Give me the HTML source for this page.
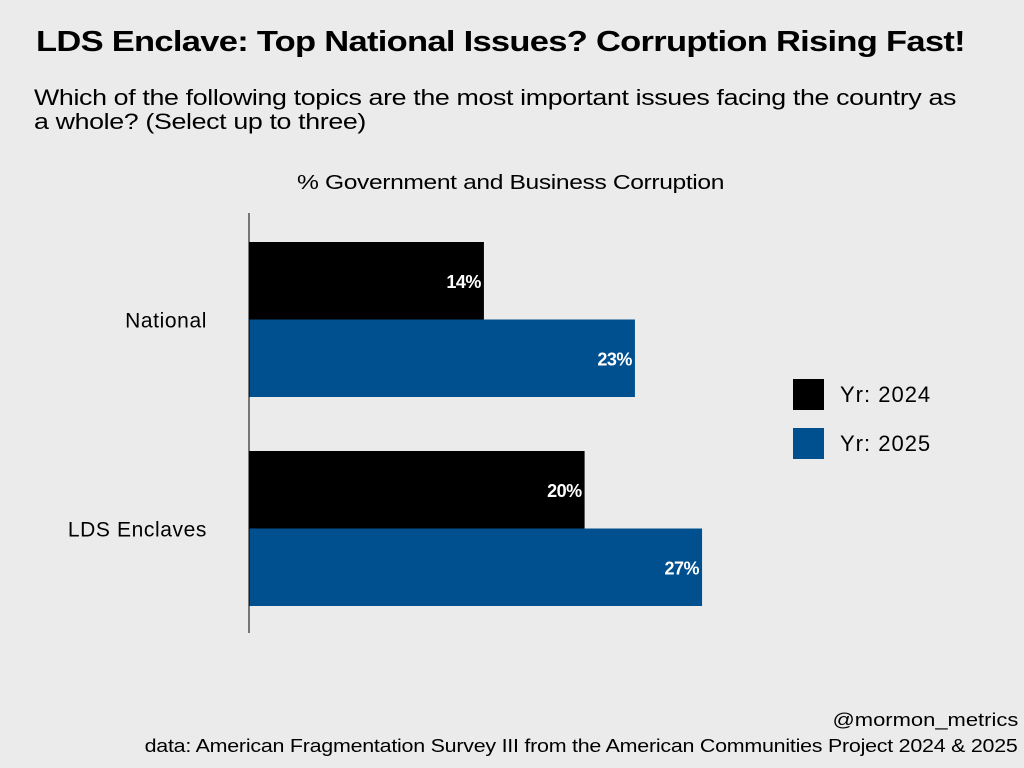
<!DOCTYPE html>
<html><head><meta charset="utf-8">
<style>
body{margin:0;background:#ebebeb;font-family:"Liberation Sans",sans-serif;}
#wrap{position:relative;width:1024px;height:768px;overflow:hidden;background:#ebebeb;}
.t{position:absolute;white-space:nowrap;color:#000;}
</style></head><body>
<div id="wrap">
<div class="t" style="left:36px;top:26px;font-size:29px;font-weight:bold;letter-spacing:-0.6px;transform:scaleX(1.19);transform-origin:left top;">LDS Enclave: Top National Issues? Corruption Rising Fast!</div>
<div class="t" style="left:34px;top:86px;font-size:22.5px;line-height:24px;letter-spacing:-0.3px;transform:scaleX(1.19);transform-origin:left top;">Which of the following topics are the most important issues facing the country as<br>a whole? (Select up to three)</div>
<div class="t" style="left:297px;top:172px;font-size:20px;letter-spacing:-0.3px;transform:scaleX(1.23);transform-origin:left top;">% Government and Business Corruption</div>
<svg id="svg" width="1024" height="768" style="position:absolute;left:0;top:0"></svg>
<div class="t" style="right:6px;top:710px;font-size:18px;transform:scaleX(1.22);transform-origin:right top;">@mormon_metrics</div>
<div class="t" style="right:6px;top:736px;font-size:18px;letter-spacing:-0.2px;transform:scaleX(1.19);transform-origin:right top;">data: American Fragmentation Survey III from the American Communities Project 2024 &amp; 2025</div>
</div>
<script>
const categories=["National","LDS Enclaves"];
const series2024=[14,20];
const series2025=[23,27];
const seriesNames=["Yr: 2024","Yr: 2025"];
const colors=["#000000","#00508f"];
const NS="http://www.w3.org/2000/svg";
const svg=document.getElementById('svg');
const x0=249, pxPer=16.78;
function xs(v){return x0+v*pxPer;}
const groupTop=[242,451], barH=77.5;
function mk(t,a){const e=document.createElementNS(NS,t);for(const k in a)e.setAttribute(k,a[k]);svg.appendChild(e);return e;}
const all=[series2024,series2025];
categories.forEach((c,i)=>{
  all.forEach((s,j)=>{
    const y=groupTop[i]+j*barH;
    const r=mk('rect',{x:x0,y:y,width:xs(s[i])-x0,height:barH,fill:colors[j]});
    
    
    const t=mk('text',{x:xs(s[i])-3,y:y+barH/2+7,'text-anchor':'end','font-size':18,'font-weight':'bold',fill:'#fff','font-family':'Liberation Sans, sans-serif','letter-spacing':'-0.5'});
    t.textContent=s[i]+'%';
    
    
  });
  const l=mk('text',{x:207,y:groupTop[i]+barH+8,'text-anchor':'end','font-size':21,fill:'#000','font-family':'Liberation Sans, sans-serif','letter-spacing':'0.6'});
  l.textContent=c;
  
  
});
const ax=mk('line',{x1:x0,x2:x0,y1:213,y2:633,stroke:'#000','stroke-width':1});


seriesNames.forEach((n,j)=>{
  const y=379+j*49;
  const r=mk('rect',{x:793,y:y,width:31,height:31,fill:colors[j]});
  
  
  const t=mk('text',{x:840,y:y+23,'font-size':22,fill:'#000','font-family':'Liberation Sans, sans-serif','letter-spacing':'1'});
  t.textContent=n;
  
  
});
</script>
</body></html>
